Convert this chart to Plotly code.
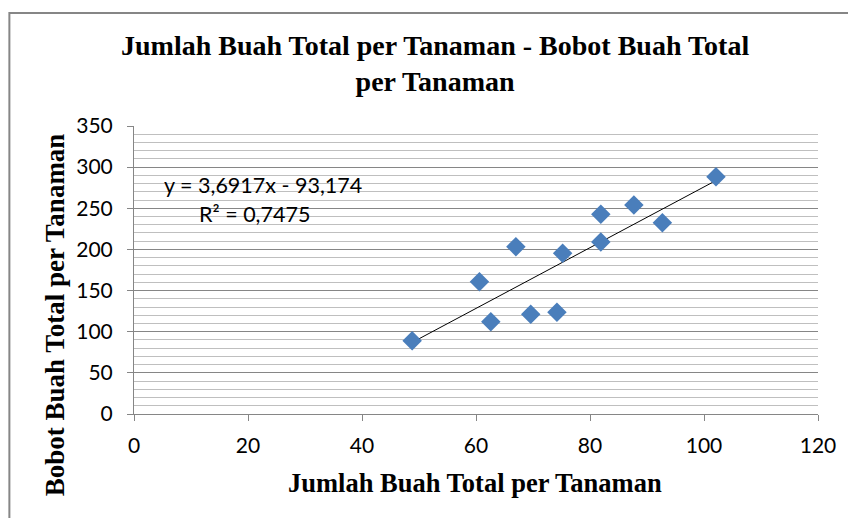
import plotly.graph_objects as go

# Data
jumlah_buah = [48.8, 60.6, 62.6, 67.0, 69.6, 74.2, 75.2, 81.9, 81.9, 87.7, 92.7, 102.1]
bobot_buah = [89.1, 160.8, 112.2, 203.3, 121.3, 123.7, 195.3, 242.6, 209.0, 254.0, 232.4, 288.3]

slope = 3.6917
intercept = -93.174
r_squared = 0.7475

x_ticks = [0, 20, 40, 60, 80, 100, 120]
y_ticks = [0, 50, 100, 150, 200, 250, 300, 350]

trend_x = [min(jumlah_buah), max(jumlah_buah)]
trend_y = [slope * v + intercept for v in trend_x]

fig = go.Figure()

fig.add_trace(go.Scatter(
    x=trend_x, y=trend_y, mode="lines",
    line=dict(color="#000000", width=1), showlegend=False, hoverinfo="skip"))

fig.add_trace(go.Scatter(
    x=jumlah_buah, y=bobot_buah, mode="markers",
    marker=dict(symbol="diamond", size=15, color="#4a7ebb",
                line=dict(width=0)),
    showlegend=False))

axis_font = dict(family="Lato, Carlito, Calibri, sans-serif", size=21, color="#000000")
eq_font = dict(family="Lato, Carlito, Calibri, sans-serif", size=21.5, color="#000000")
title_font = "Liberation Serif, Times New Roman, serif"

fig.update_layout(
    width=848, height=518,
    margin=dict(l=134, r=28, t=126, b=104),
    paper_bgcolor="#ffffff",
    plot_bgcolor="#ffffff",
    xaxis=dict(range=[0, 120], tickvals=x_ticks, showgrid=False, zeroline=False,
               showline=True, linecolor="#868686", linewidth=1,
               ticks="outside", ticklen=6, tickcolor="#868686",
               ticklabelstandoff=7,
               tickfont=axis_font, fixedrange=True),
    yaxis=dict(range=[0, 350], tickvals=y_ticks, showgrid=True,
               gridcolor="#868686", gridwidth=1, zeroline=False,
               showline=True, linecolor="#868686", linewidth=1,
               ticks="outside", ticklen=6, tickcolor="#868686",
               ticklabelstandoff=10,
               tickfont=axis_font, fixedrange=True,
               minor=dict(dtick=10, showgrid=True, gridcolor="#bfbfbf", gridwidth=1)),
    shapes=[dict(type="rect", xref="paper", yref="paper",
                 x0=-0.1822, x1=1.3, y0=-0.7, y1=1.392,
                 line=dict(color="#868686", width=2), fillcolor="rgba(0,0,0,0)",
                 layer="below")],
    annotations=[
        dict(text="<b>Jumlah Buah Total per Tanaman - Bobot Buah Total</b><br><b>per Tanaman</b>",
             xref="paper", yref="paper", x=0.4395, y=1.217, xanchor="center", yanchor="middle",
             showarrow=False, font=dict(family=title_font, size=28, color="#000000")),
        dict(text="<b>Jumlah Buah Total per Tanaman</b>",
             xref="paper", yref="paper", x=0.499, y=-0.24, xanchor="center", yanchor="middle",
             showarrow=False, font=dict(family=title_font, size=26.5, color="#000000")),
        dict(text="<b>Bobot Buah Total per Tanaman</b>", textangle=-90,
             xref="paper", yref="paper", x=-0.115, y=0.344, xanchor="center", yanchor="middle",
             showarrow=False, font=dict(family=title_font, size=27, color="#000000")),
        dict(text="y = 3,6917x - 93,174",
             xref="paper", yref="paper", x=0.188, y=0.795, xanchor="center", yanchor="middle",
             showarrow=False, font=eq_font),
        dict(text="R² = 0,7475",
             xref="paper", yref="paper", x=0.176, y=0.694, xanchor="center", yanchor="middle",
             showarrow=False, font=eq_font),
    ],
)

fig.write_html(
    "out.html",
    config={"displayModeBar": False},
    post_script="document.body.style.margin='0';document.documentElement.style.overflow='hidden';",
)
